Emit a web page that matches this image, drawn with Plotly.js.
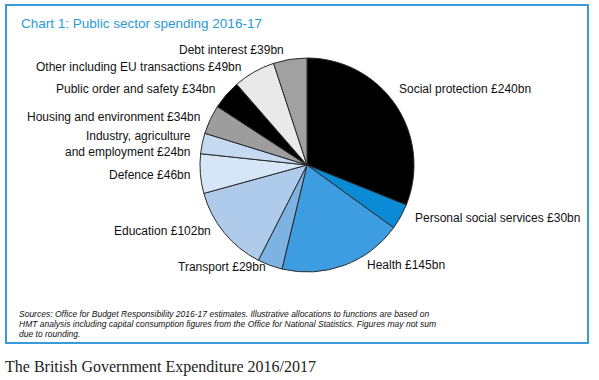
<!DOCTYPE html>
<html>
<head>
<meta charset="utf-8">
<script src="https://cdn.plot.ly/plotly-3.0.1.min.js"></script>
<style>html,body{margin:0;padding:0;background:#fff;}#chart{width:599px;height:380px;}</style>
</head>
<body>
<div id="chart"></div>
<script>
// ---- data ----
const categories = [
  "Social protection", "Personal social services", "Health", "Transport",
  "Education", "Defence", "Industry, agriculture<br>and employment",
  "Housing and environment", "Public order and safety",
  "Other including EU transactions", "Debt interest"
];
const spendingBn = [240, 30, 145, 29, 102, 46, 24, 34, 34, 49, 39];
const sliceColors = ["#000000", "#0b8ad6", "#3e9ce0", "#7db3e3", "#aecbeb",
  "#d7e6f6", "#c5daf0", "#9d9d9d", "#000000", "#e9e9e9", "#a1a1a1"];
const chartTitle = "Chart 1: Public sector spending 2016-17";
const sourceLines = [
  "Sources: Office for Budget Responsibility 2016-17 estimates. Illustrative allocations to functions are based on",
  "HMT analysis including capital consumption figures from the Office for National Statistics. Figures may not sum",
  "due to rounding."
];
const caption = "The British Government Expenditure 2016/2017";

// ---- layout helpers (label positions in pixels) ----
const W = 599, H = 380;
const labelPos = [
  {x: 397, y: 89, a: "left"},
  {x: 413, y: 218, a: "left"},
  {x: 365, y: 265, a: "left"},
  {x: 268, y: 267, a: "right"},
  {x: 213, y: 231, a: "right"},
  {x: 192, y: 175, a: "right"},
  {x: 193, y: 144, a: "right"},
  {x: 202, y: 117, a: "right"},
  {x: 217, y: 89, a: "right"},
  {x: 243, y: 67, a: "right"},
  {x: 286, y: 50, a: "right"}
];
const px = v => v / W, py = v => 1 - v / H;
const cx = 307, cy = 165, r = 107;

const annotations = categories.map((c, i) => ({
  text: c + " £" + spendingBn[i] + "bn",
  x: px(labelPos[i].x), y: py(labelPos[i].y), xref: "paper", yref: "paper",
  xanchor: labelPos[i].a, yanchor: "middle", align: labelPos[i].a,
  showarrow: false, font: {family: "Liberation Sans, Arial, sans-serif", size: 12, color: "#111"}
}));
annotations.push({
  text: chartTitle, x: px(19), y: py(24), xref: "paper", yref: "paper",
  xanchor: "left", yanchor: "middle", showarrow: false,
  font: {family: "Liberation Sans, Arial, sans-serif", size: 13.5, color: "#2a9ad6"}
});
sourceLines.forEach((t, i) => annotations.push({
  text: "<i>" + t + "</i>", x: px(17), y: py(314 + i * 10), xref: "paper", yref: "paper",
  xanchor: "left", yanchor: "middle", align: "left", showarrow: false,
  font: {family: "Liberation Sans, Arial, sans-serif", size: 8.5, color: "#111"}
}));
annotations.push({
  text: caption, x: px(3), y: py(367), xref: "paper", yref: "paper",
  xanchor: "left", yanchor: "middle", showarrow: false,
  font: {family: "Liberation Serif, Times New Roman, serif", size: 16, color: "#222"}
});

const data = [{
  type: "pie",
  labels: categories,
  values: spendingBn,
  marker: {colors: sliceColors, line: {color: "#2a2a2a", width: 1}},
  sort: false,
  direction: "clockwise",
  rotation: 0,
  textinfo: "none",
  hoverinfo: "label+value",
  showlegend: false,
  domain: {x: [px(cx - r), px(cx + r)], y: [py(cy + r), py(cy - r)]}
}];

const layout = {
  width: W, height: H,
  margin: {l: 0, r: 0, t: 0, b: 0},
  paper_bgcolor: "#ffffff",
  showlegend: false,
  annotations: annotations,
  shapes: [{
    type: "rect", xref: "paper", yref: "paper",
    x0: px(6), x1: px(588), y0: py(5), y1: py(343),
    line: {color: "#3a9bdc", width: 2}, fillcolor: "rgba(0,0,0,0)"
  }]
};

Plotly.newPlot("chart", data, layout, {staticPlot: true});
</script>
</body>
</html>
